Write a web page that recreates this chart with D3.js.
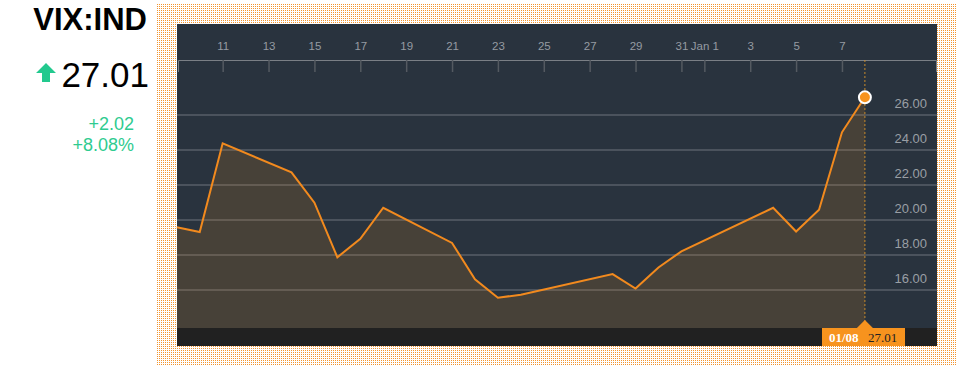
<!DOCTYPE html>
<html>
<head>
<meta charset="utf-8">
<script src="https://cdn.jsdelivr.net/npm/d3@7"></script>
<style>
  body { margin: 0; background: #fff; }
  svg { display: block; }
</style>
</head>
<body>
<svg id="chart" width="956" height="367"></svg>
<script>
// VIX daily closes, Dec 2015 - Jan 2016
const dates = ["2015-12-09", "2015-12-10", "2015-12-11", "2015-12-14", "2015-12-15",
  "2015-12-16", "2015-12-17", "2015-12-18", "2015-12-21", "2015-12-22", "2015-12-23",
  "2015-12-24", "2015-12-28", "2015-12-29", "2015-12-30", "2015-12-31", "2016-01-04",
  "2016-01-05", "2016-01-06", "2016-01-07", "2016-01-08"];
const closes = [19.58, 19.31, 24.38, 22.72, 20.99, 17.87, 18.93, 20.70, 18.69, 16.61, 15.56,
  15.73, 16.91, 16.08, 17.29, 18.21, 20.70, 19.34, 20.59, 25.01, 27.01];
const xTicks = ["2015-12-11", "2015-12-13", "2015-12-15", "2015-12-17", "2015-12-19",
  "2015-12-21", "2015-12-23", "2015-12-25", "2015-12-27", "2015-12-29", "2015-12-31",
  "2016-01-01", "2016-01-03", "2016-01-05", "2016-01-07"];
const yTicks = [16, 18, 20, 22, 24, 26];

const ticker = "VIX:IND";
const last = "27.01", change = "+2.02", changePct = "+8.08%";
const lastDate = "01/08";

const data = dates.map((d, i) => ({ date: new Date(d + "T00:00:00Z"), value: closes[i] }));

const svg = d3.select("#chart");
const panel = { left: 177, right: 937, top: 24, bottom: 346 };
const plotBottom = 328;
const axisY = 60;

// dotted frame
const defs = svg.append("defs");
defs.append("pattern")
  .attr("id", "dots")
  .attr("patternUnits", "userSpaceOnUse")
  .attr("x", 1).attr("y", 0)
  .attr("width", 2).attr("height", 2)
  .append("rect")
  .attr("width", 1).attr("height", 1)
  .attr("fill", "#f3952f");

svg.append("rect")
  .attr("x", 157).attr("y", 4)
  .attr("width", 799).attr("height", 361)
  .attr("fill", "url(#dots)");

svg.append("rect")
  .attr("x", panel.left).attr("y", panel.top)
  .attr("width", panel.right - panel.left)
  .attr("height", panel.bottom - panel.top)
  .attr("fill", "#29333e");

const x = d3.scaleUtc()
  .domain([data[0].date, data[data.length - 1].date])
  .range([176.8, 864.9]);
const y = d3.scaleLinear().domain([16, 26]).range([290, 115]);

// gridlines
svg.append("g")
  .selectAll("line")
  .data(yTicks)
  .join("line")
  .attr("x1", panel.left).attr("x2", panel.right)
  .attr("y1", d => y(d)).attr("y2", d => y(d))
  .attr("stroke", "#6f757c")
  .attr("stroke-width", 1);

svg.append("g")
  .selectAll("text")
  .data(yTicks)
  .join("text")
  .attr("x", 927)
  .attr("y", d => y(d) - 7)
  .attr("text-anchor", "end")
  .attr("fill", "#9a9fa5")
  .style("font", "13px 'Liberation Sans', Arial, sans-serif")
  .text(d => d.toFixed(2));

// area + line
const area = d3.area()
  .x(d => x(d.date))
  .y0(plotBottom)
  .y1(d => y(d.value));
const line = d3.line()
  .x(d => x(d.date))
  .y(d => y(d.value));

svg.append("path")
  .datum(data)
  .attr("d", area)
  .attr("fill", "rgba(247,148,29,0.15)");

svg.append("path")
  .datum(data)
  .attr("d", line)
  .attr("fill", "none")
  .attr("stroke", "#f28a1e")
  .attr("stroke-width", 2)
  .attr("stroke-linejoin", "miter");

// bottom band
svg.append("rect")
  .attr("x", panel.left).attr("y", plotBottom)
  .attr("width", panel.right - panel.left)
  .attr("height", panel.bottom - plotBottom)
  .attr("fill", "#212121");

// x axis across the panel
const xAxisScale = x.copy()
  .domain([x.invert(panel.left + 1), x.invert(panel.right - 1)])
  .range([panel.left + 1, panel.right - 1]);
const tickDates = xTicks.map(d => new Date(d + "T00:00:00Z"));
const xAxis = svg.append("g")
  .attr("transform", `translate(0,${axisY})`)
  .call(d3.axisBottom(xAxisScale)
    .tickValues(tickDates)
    .tickSize(12)
    .tickSizeOuter(12)
    .tickFormat(d => d.getUTCDate() === 1 ? "Jan 1" : String(d.getUTCDate())));
xAxis.select(".domain").attr("stroke", "#7a7f85");
xAxis.selectAll(".tick line").attr("stroke", "#545a61").attr("stroke-width", 1.5);
xAxis.selectAll(".tick text")
  .attr("y", -10)
  .attr("dy", 0)
  .attr("fill", "#959ba2")
  .style("font", "11.5px 'Liberation Sans', Arial, sans-serif");

// crosshair on the last point
const lastPt = data[data.length - 1];
const lx = x(lastPt.date);
svg.append("line")
  .attr("x1", lx).attr("x2", lx)
  .attr("y1", axisY).attr("y2", plotBottom - 7)
  .attr("stroke", "#c88a2c")
  .attr("stroke-width", 1)
  .attr("stroke-dasharray", "2,2");

svg.append("circle")
  .attr("cx", lx).attr("cy", y(lastPt.value))
  .attr("r", 6)
  .attr("fill", "#f7931e")
  .attr("stroke", "#fff")
  .attr("stroke-width", 2);

// date/value flag
svg.append("rect")
  .attr("x", 822).attr("y", plotBottom)
  .attr("width", 83).attr("height", 18)
  .attr("fill", "#f7931e");
svg.append("path")
  .attr("d", `M${lx - 8},${plotBottom} L${lx},${plotBottom - 8} L${lx + 8},${plotBottom} Z`)
  .attr("fill", "#f7931e");
svg.append("text")
  .attr("x", 829).attr("y", 342)
  .attr("fill", "#fff")
  .style("font", "bold 13px 'Liberation Serif', Georgia, serif")
  .text(lastDate);
svg.append("text")
  .attr("x", 868).attr("y", 342)
  .attr("fill", "#222")
  .style("font", "13px 'Liberation Serif', Georgia, serif")
  .text(last);

// header on the left
svg.append("text")
  .attr("x", 147).attr("y", 30)
  .attr("text-anchor", "end")
  .attr("fill", "#000")
  .style("font", "bold 31px 'Liberation Sans', Arial, sans-serif")
  .text(ticker);

svg.append("path")
  .attr("d", "M46,63 L56,73 L50,73 L50,82 L42,82 L42,73 L36,73 Z")
  .attr("fill", "#22c98e");

svg.append("text")
  .attr("x", 149).attr("y", 87)
  .attr("text-anchor", "end")
  .attr("fill", "#000")
  .style("font", "35px 'Liberation Sans', Arial, sans-serif")
  .text(last);

svg.append("text")
  .attr("x", 134).attr("y", 130)
  .attr("text-anchor", "end")
  .attr("fill", "#2fcb90")
  .style("font", "18px 'Liberation Sans', Arial, sans-serif")
  .text(change);
svg.append("text")
  .attr("x", 134).attr("y", 151)
  .attr("text-anchor", "end")
  .attr("fill", "#2fcb90")
  .style("font", "18px 'Liberation Sans', Arial, sans-serif")
  .text(changePct);
</script>
</body>
</html>
